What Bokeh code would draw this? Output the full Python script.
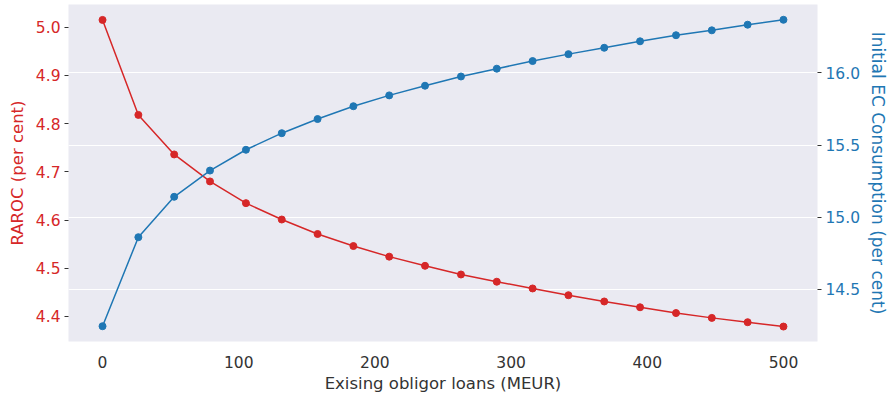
from bokeh.plotting import figure
from bokeh.models import Range1d, LinearAxis, FixedTicker, PrintfTickFormatter
from bokeh.embed import file_html
from bokeh.resources import INLINE

loans = [0, 26.3, 52.6, 78.9, 105.3, 131.6, 157.9, 184.2, 210.5, 236.8,
         263.2, 289.5, 315.8, 342.1, 368.4, 394.7, 421.1, 447.4, 473.7, 500]
raroc = [5.015, 4.818, 4.736, 4.680, 4.635, 4.601, 4.571, 4.546, 4.524, 4.505,
         4.487, 4.472, 4.458, 4.444, 4.431, 4.419, 4.407, 4.397, 4.388, 4.379]
ec = [14.244, 14.861, 15.141, 15.323, 15.467, 15.582, 15.680, 15.769, 15.844, 15.911,
      15.975, 16.029, 16.082, 16.130, 16.174, 16.219, 16.261, 16.295, 16.334, 16.368]

x_ticks = [0, 100, 200, 300, 400, 500]
raroc_ticks = [4.4, 4.5, 4.6, 4.7, 4.8, 4.9, 5.0]
ec_ticks = [14.5, 15.0, 15.5, 16.0]

RED = "#d62728"
BLUE = "#1f77b4"
FONT = "DejaVu Sans"
TICK_FS = "15.5px"
LABEL_FS = "16.5px"

p = figure(width=891, height=395, output_backend="svg", toolbar_location=None,
           x_range=Range1d(-25, 525), y_range=Range1d(14.138, 16.474),
           y_axis_location="right",
           min_border_left=68, min_border_right=72, min_border_top=4, min_border_bottom=52)
p.extra_y_ranges = {"raroc": Range1d(4.348, 5.047)}

p.background_fill_color = "#eaeaf2"
p.border_fill_color = "white"
p.outline_line_color = None
p.xgrid.grid_line_color = None
p.ygrid.grid_line_color = "white"
p.ygrid.grid_line_width = 1.2

right_axis = p.right[0]
right_axis.axis_label = "Initial EC Consumption (per cent)"
left_axis = LinearAxis(y_range_name="raroc", axis_label="RAROC (per cent)")
p.add_layout(left_axis, "left")

for ax, ticks, col in [(left_axis, raroc_ticks, RED), (right_axis, ec_ticks, BLUE)]:
    ax.ticker = FixedTicker(ticks=ticks)
    ax.formatter = PrintfTickFormatter(format="%.1f")
    ax.major_label_text_color = col
    ax.axis_label_text_color = col
    ax.major_tick_line_color = "#333333"
    ax.major_tick_out = 4
    ax.major_tick_in = 0
    ax.minor_tick_line_color = None
    ax.axis_line_color = None
    ax.major_label_text_font = FONT
    ax.major_label_text_font_size = TICK_FS
    ax.axis_label_text_font = FONT
    ax.axis_label_text_font_size = LABEL_FS
    ax.axis_label_text_font_style = "normal"
    ax.major_label_standoff = 4
    ax.axis_label_standoff = 6

right_axis.axis_label_text_font_size = "17px"
right_axis.axis_label_standoff = 5

xa = p.xaxis[0]
xa.ticker = FixedTicker(ticks=x_ticks)
xa.formatter = PrintfTickFormatter(format="%d")
xa.axis_label = "Exising obligor loans (MEUR)"
xa.major_tick_line_color = None
xa.minor_tick_line_color = None
xa.axis_line_color = None
xa.major_label_text_color = "#333333"
xa.axis_label_text_color = "#333333"
xa.major_label_text_font = FONT
xa.major_label_text_font_size = TICK_FS
xa.axis_label_text_font = FONT
xa.axis_label_text_font_size = LABEL_FS
xa.axis_label_text_font_style = "normal"
xa.major_label_standoff = 8
xa.axis_label_standoff = 3

p.line(loans, raroc, color=RED, line_width=1.5, y_range_name="raroc")
p.scatter(loans, raroc, color=RED, size=7, y_range_name="raroc")
p.line(loans, ec, color=BLUE, line_width=1.5)
p.scatter(loans, ec, color=BLUE, size=7)

open("out.html", "w").write(file_html(p, INLINE))
